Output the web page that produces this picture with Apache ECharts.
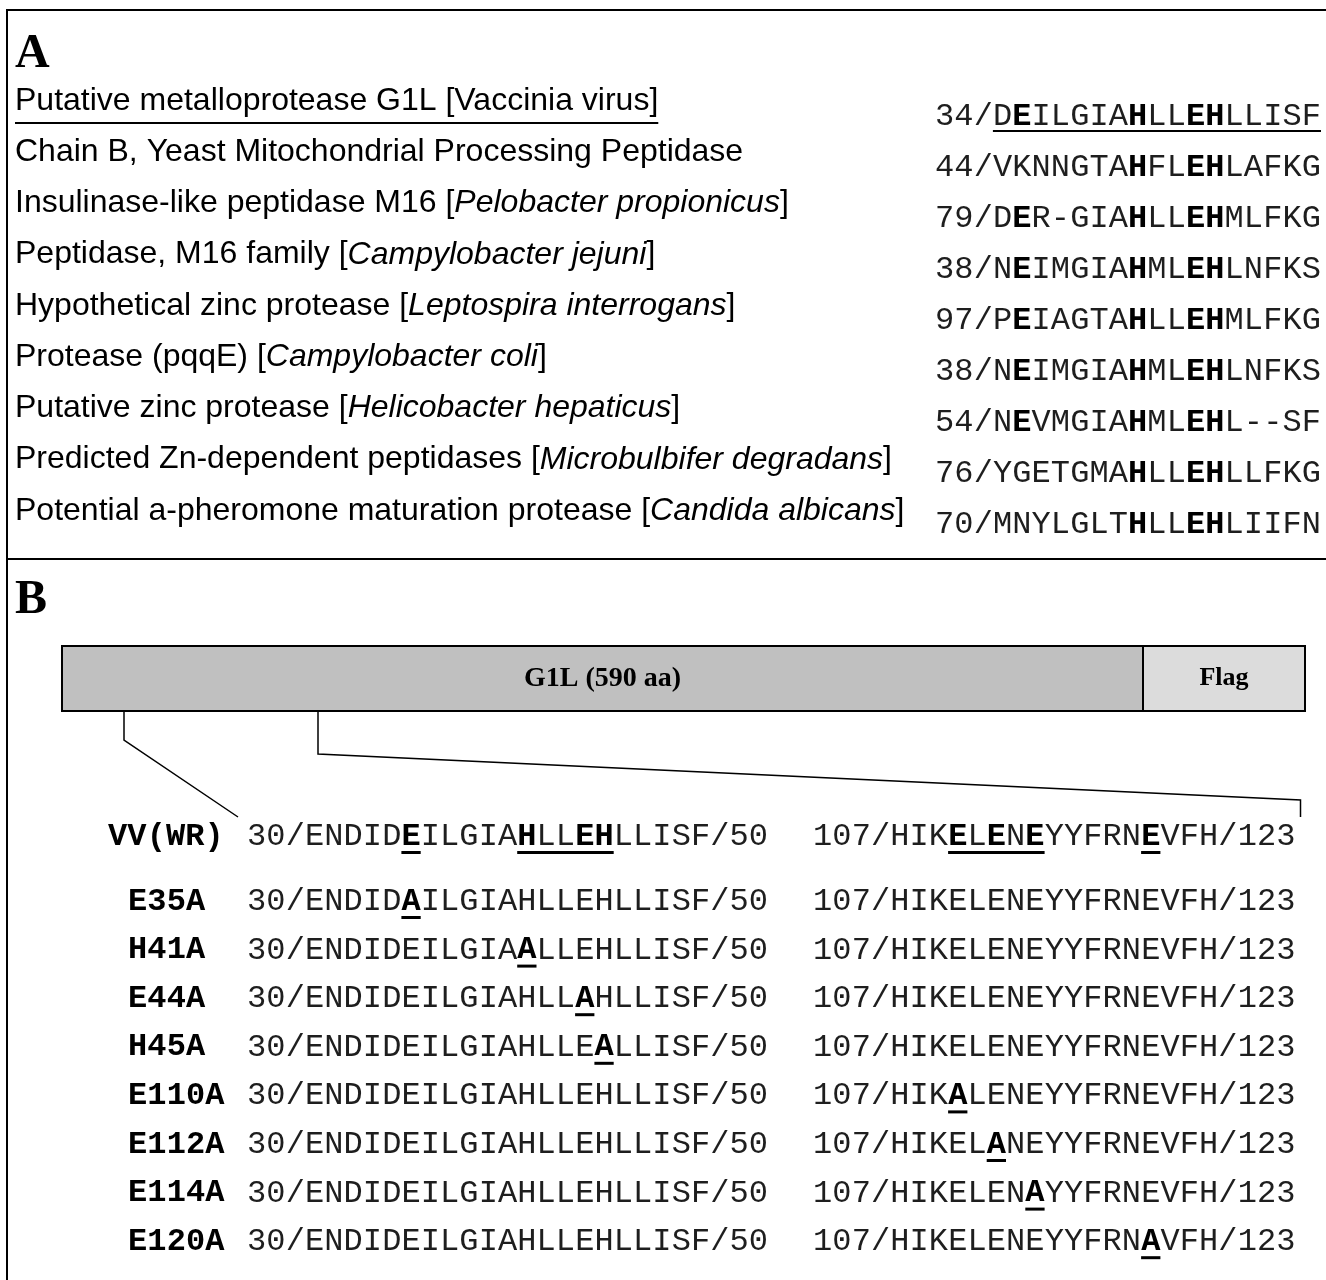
<!DOCTYPE html>
<html>
<head>
<meta charset="utf-8">
<script src="https://cdn.jsdelivr.net/npm/echarts@6/dist/echarts.min.js"></script>
<style>
html,body{margin:0;padding:0;background:#fff;}
#chart{width:1326px;height:1280px;}
</style>
</head>
<body>
<div id="chart"></div>
<script>
// ---------------- DATA ----------------
// Panel A: protein descriptions, organisms and aligned motif windows
const proteinDescriptions = [
  'Putative metalloprotease G1L',
  'Chain B, Yeast Mitochondrial Processing Peptidase',
  'Insulinase-like peptidase M16',
  'Peptidase, M16 family',
  'Hypothetical zinc protease',
  'Protease (pqqE)',
  'Putative zinc protease',
  'Predicted Zn-dependent peptidases',
  'Potential a-pheromone maturation protease'
];
const organisms = [
  'Vaccinia virus', null, 'Pelobacter propionicus', 'Campylobacter jejuni',
  'Leptospira interrogans', 'Campylobacter coli', 'Helicobacter hepaticus',
  'Microbulbifer degradans', 'Candida albicans'
];
const organismItalic = [false, false, true, true, true, true, true, true, true];
const alignStart = [34, 44, 79, 38, 97, 38, 54, 76, 70];
const alignedSeqs = [
  'DEILGIAHLLEHLLISF',
  'VKNNGTAHFLEHLAFKG',
  'DER-GIAHLLEHMLFKG',
  'NEIMGIAHMLEHLNFKS',
  'PEIAGTAHLLEHMLFKG',
  'NEIMGIAHMLEHLNFKS',
  'NEVMGIAHMLEHL--SF',
  'YGETGMAHLLEHLLFKG',
  'MNYLGLTHLLEHLIIFN'
];
// positions (0-based, within aligned window) of conserved residues shown in bold
const conservedIdx = [
  [1, 7, 10, 11], [7, 10, 11], [1, 7, 10, 11], [1, 7, 10, 11], [1, 7, 10, 11],
  [1, 7, 10, 11], [1, 7, 10, 11], [7, 10, 11], [7, 10, 11]
];
const queryRow = 0; // the G1L query (underlined)

// Panel B: construct and mutants
const constructParts = ['G1L (590 aa)', 'Flag'];
const windowStarts = [30, 107];
const windowEnds = [50, 123];
const wtWindows = ['ENDIDEILGIAHLLEHLLISF', 'HIKELENEYYFRNEVFH'];
const wtLabel = 'VV(WR)';
const wtBoldResidues = [35, 41, 44, 45, 110, 112, 114, 120];
const wtUnderlineSpans = [[35, 35], [41, 45], [110, 114], [120, 120]];
const mutantLabels = ['E35A', 'H41A', 'E44A', 'H45A', 'E110A', 'E112A', 'E114A', 'E120A'];
const mutantSites = [35, 41, 44, 45, 110, 112, 114, 120];
const mutantResidue = 'A';

// ---------------- LAYOUT (positions / styles) ----------------
const W = 1326, H = 1280;
const LAY = {
  frame: { left: 7, top: 10, divider: 559, lw: 2 },
  letter: { x: 15, yA: 71, yB: 617, size: 48 },
  aLabel: { x: 15, y0: 112, step: 51.25, size: 32, ulOff: 11 },
  aSeq: { x: 935, y0: 125, step: 51, pitch: 19.3, size: 32, ulOff: 6 },
  bar: { x0: 62, x1: 1143, x2: 1305, y0: 646, y1: 711, g1lSize: 28, flagSize: 26 },
  guide: { leftX: 124, leftBend: 740, rightX: 318, rightBend: 754, endY: 817, rightCornerY: 800 },
  bRows: { wtY: 845, y0: 910, step: 48.6, wtLabelX: 108, labelX: 128,
           col1X: 247, col2X: 813, pitch: 19.3, size: 32, ulOff: 6, ulH: 3 }
};
const SANS = '"Liberation Sans", Arial, sans-serif';
const MONO = '"Liberation Mono", "Courier New", monospace';
const SERIF = '"Liberation Serif", "Times New Roman", serif';
const MONO_REG_FILL = '#1e1e1e';
// distance from alphabetic baseline to canvas "middle" baseline, per em
const MID = { sans: 0.3465, mono: 0.2665, serif: 0.3375 };

const mctx = document.createElement('canvas').getContext('2d');
function measure(text, size, family, weight, style) {
  mctx.font = (style || 'normal') + ' ' + (weight || 'normal') + ' ' + size + 'px ' + family;
  return mctx.measureText(text).width;
}

function textEl(api, x, baseY, text, opt) {
  const p = api.coord([x, baseY - opt.mid * opt.size]);
  return {
    type: 'text', x: p[0], y: p[1], silent: true,
    style: {
      text: text, fill: opt.fill || '#000', fontSize: opt.size, fontFamily: opt.family,
      fontWeight: opt.weight || 'normal', fontStyle: opt.style || 'normal',
      textAlign: opt.align || 'left', textVerticalAlign: 'middle'
    }
  };
}
function rectEl(api, x0, y0, x1, y1, style) {
  const a = api.coord([x0, y0]), b = api.coord([x1, y1]);
  return { type: 'rect', silent: true,
    shape: { x: Math.min(a[0], b[0]), y: Math.min(a[1], b[1]), width: Math.abs(b[0] - a[0]), height: Math.abs(b[1] - a[1]) },
    style: style };
}
function polyEl(api, pts, lw) {
  return { type: 'polyline', silent: true,
    shape: { points: pts.map(q => api.coord(q)) },
    style: { stroke: '#000', lineWidth: lw || 1.5, fill: null } };
}
// monospaced string drawn char by char, bold where flagged
function monoString(api, children, str, x0, baseY, pitch, size, boldFn) {
  for (let k = 0; k < str.length; k++) {
    const bold = boldFn ? boldFn(k) : true;
    children.push(textEl(api, x0 + (k + 0.5) * pitch, baseY, str[k],
      { size: size, family: MONO, mid: MID.mono, weight: bold ? 'bold' : 'normal', align: 'center',
        fill: bold ? '#000' : MONO_REG_FILL }));
  }
}

// ---------------- SERIES ----------------
// Frame, panel letters, construct bar and guide lines
function renderFrame(params, api) {
  const f = LAY.frame, c = [];
  c.push(polyEl(api, [[W, f.top], [f.left, f.top], [f.left, H]], f.lw));
  c.push(polyEl(api, [[f.left, f.divider], [W, f.divider]], f.lw));
  c.push(textEl(api, LAY.letter.x, LAY.letter.yA, 'A', { size: LAY.letter.size, family: SERIF, mid: MID.serif, weight: 'bold' }));
  c.push(textEl(api, LAY.letter.x, LAY.letter.yB, 'B', { size: LAY.letter.size, family: SERIF, mid: MID.serif, weight: 'bold' }));
  const b = LAY.bar;
  c.push(rectEl(api, b.x0, b.y0, b.x1, b.y1, { fill: '#c0c0c0', stroke: '#000', lineWidth: 2 }));
  c.push(rectEl(api, b.x1, b.y0, b.x2, b.y1, { fill: '#dcdcdc', stroke: '#000', lineWidth: 2 }));
  const midY = (b.y0 + b.y1) / 2;
  c.push(textEl(api, (b.x0 + b.x1) / 2, midY + 10, constructParts[0], { size: b.g1lSize, family: SERIF, mid: MID.serif, weight: 'bold', align: 'center' }));
  c.push(textEl(api, (b.x1 + b.x2) / 2, midY + 9, constructParts[1], { size: b.flagSize, family: SERIF, mid: MID.serif, weight: 'bold', align: 'center' }));
  const g = LAY.guide, r = LAY.bRows;
  const col1Start = r.col1X - 9;
  const col2End = r.col2X + (String(windowStarts[1]).length + 1 + wtWindows[1].length + 1 + String(windowEnds[1]).length) * r.pitch + 5;
  c.push(polyEl(api, [[g.leftX, b.y1], [g.leftX, g.leftBend], [col1Start, g.endY]], 1.5));
  c.push(polyEl(api, [[g.rightX, b.y1], [g.rightX, g.rightBend], [col2End, g.rightCornerY], [col2End, g.endY]], 1.5));
  return { type: 'group', children: c };
}

// Panel A rows
function renderPanelA(params, api) {
  const i = api.value(0), c = [];
  const la = LAY.aLabel, sa = LAY.aSeq;
  const by = la.y0 + i * la.step;
  let x = la.x;
  const segs = [];
  if (organisms[i]) {
    segs.push({ t: proteinDescriptions[i] + ' [', it: false });
    segs.push({ t: organisms[i], it: organismItalic[i] });
    segs.push({ t: ']', it: false });
  } else {
    segs.push({ t: proteinDescriptions[i], it: false });
  }
  segs.forEach(s => {
    const st = s.it ? 'italic' : 'normal';
    c.push(textEl(api, x, by, s.t, { size: la.size, family: SANS, mid: MID.sans, style: st }));
    x += measure(s.t, la.size, SANS, 'normal', st);
  });
  if (i === queryRow) {
    c.push(rectEl(api, la.x, by + la.ulOff - 1, x, by + la.ulOff + 1, { fill: '#000' }));
  }
  const prefix = alignStart[i] + '/';
  const full = prefix + alignedSeqs[i];
  const sy = sa.y0 + i * sa.step;
  monoString(api, c, full, sa.x, sy, sa.pitch, sa.size,
    k => k >= prefix.length && conservedIdx[i].indexOf(k - prefix.length) >= 0);
  if (i === queryRow) {
    c.push(rectEl(api, sa.x + prefix.length * sa.pitch, sy + sa.ulOff - 1,
      sa.x + full.length * sa.pitch, sy + sa.ulOff + 1, { fill: '#000' }));
  }
  return { type: 'group', children: c };
}

// Panel B rows: row 0 = wild type, rows 1.. = mutants
function renderPanelB(params, api) {
  const row = api.value(0), c = [], r = LAY.bRows;
  const by = row === 0 ? r.wtY : r.y0 + (row - 1) * r.step;
  const label = row === 0 ? wtLabel : mutantLabels[row - 1];
  const lx = row === 0 ? r.wtLabelX : r.labelX;
  monoString(api, c, label, lx, by, r.pitch, r.size, null);
  const cols = [r.col1X, r.col2X];
  for (let w = 0; w < 2; w++) {
    const prefix = windowStarts[w] + '/';
    let seq = wtWindows[w];
    if (row > 0) {
      const site = mutantSites[row - 1];
      const pos = site - windowStarts[w];
      if (pos >= 0 && pos < seq.length) seq = seq.slice(0, pos) + mutantResidue + seq.slice(pos + 1);
    }
    const full = prefix + seq + '/' + windowEnds[w];
    const resAt = k => windowStarts[w] + (k - prefix.length);
    const inSeq = k => k >= prefix.length && k < prefix.length + seq.length;
    monoString(api, c, full, cols[w], by, r.pitch, r.size, k => {
      if (!inSeq(k)) return false;
      const res = resAt(k);
      return row === 0 ? wtBoldResidues.indexOf(res) >= 0 : res === mutantSites[row - 1];
    });
    const spans = row === 0 ? wtUnderlineSpans : [[mutantSites[row - 1], mutantSites[row - 1]]];
    spans.forEach(sp => {
      const k0 = sp[0] - windowStarts[w] + prefix.length;
      const k1 = sp[1] - windowStarts[w] + prefix.length;
      if (sp[0] >= windowStarts[w] && sp[1] <= windowEnds[w]) {
        c.push(rectEl(api, cols[w] + k0 * r.pitch, by + r.ulOff, cols[w] + (k1 + 1) * r.pitch, by + r.ulOff + r.ulH, { fill: '#000' }));
      }
    });
  }
  return { type: 'group', children: c };
}

const chart = echarts.init(document.getElementById('chart'), null, { renderer: 'canvas' });
chart.setOption({
  backgroundColor: '#ffffff',
  animation: false,
  grid: { left: 0, right: 0, top: 0, bottom: 0 },
  xAxis: { type: 'value', min: 0, max: W, show: false },
  yAxis: { type: 'value', min: 0, max: H, inverse: true, show: false },
  series: [
    { type: 'custom', coordinateSystem: 'cartesian2d', data: [[0]], renderItem: renderFrame, silent: true },
    { type: 'custom', coordinateSystem: 'cartesian2d', data: proteinDescriptions.map((d, i) => [i]), renderItem: renderPanelA, silent: true },
    { type: 'custom', coordinateSystem: 'cartesian2d', data: [[0]].concat(mutantLabels.map((m, i) => [i + 1])), renderItem: renderPanelB, silent: true }
  ]
});
</script>
</body>
</html>
